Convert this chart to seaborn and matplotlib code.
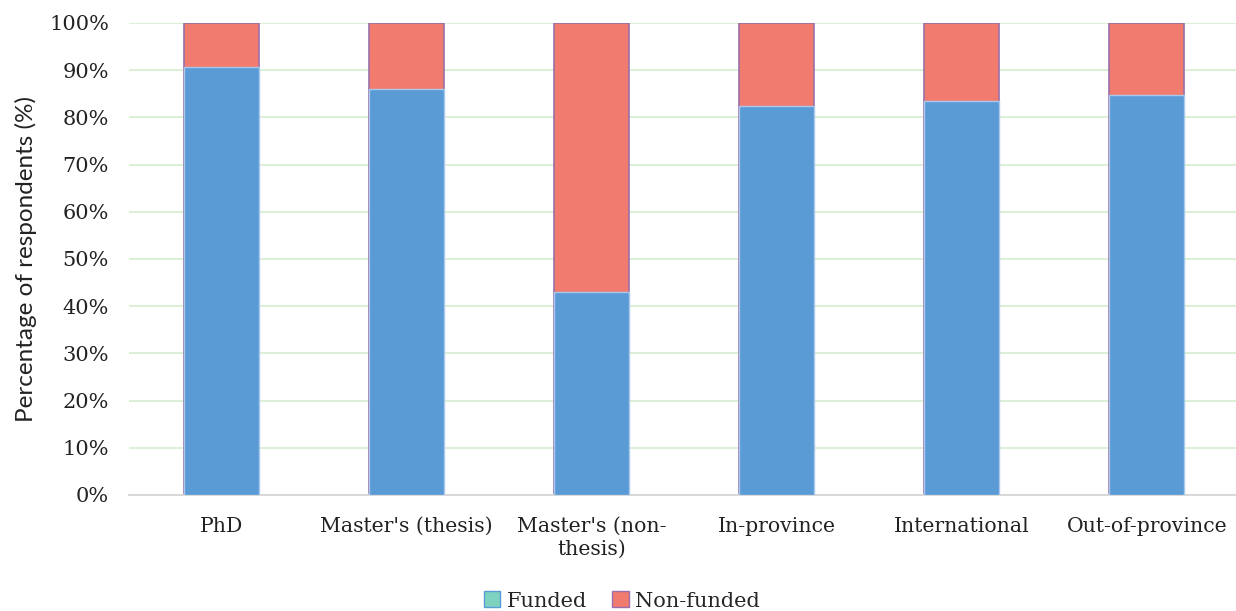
import matplotlib
matplotlib.use("Agg")
import matplotlib.pyplot as plt
import matplotlib.patches as mpatches
import seaborn as sns
import pandas as pd

categories = ["PhD", "Master's (thesis)", "Master's (non-\nthesis)",
              "In-province", "International", "Out-of-province"]
funded = [90.7, 86.0, 43.0, 82.4, 83.5, 84.7]
non_funded = [100 - f for f in funded]
y_ticks = list(range(0, 101, 10))

sns.set_theme(style="white")
serif = ["DejaVu Serif"]
sans = ["Lato", "DejaVu Sans"]

df = pd.DataFrame({"category": categories, "Funded": funded,
                   "Non-funded": non_funded})
df["total"] = df["Funded"] + df["Non-funded"]

fig = plt.figure(figsize=(12.36, 6.11), dpi=100)
ax = fig.add_axes([128.5 / 1236, 116 / 611, (1239.5 - 128.5) / 1236, 472 / 611])

blue = "#5b9bd5"
red = "#f07b6e"
bw = 0.405

# stacked bars: full-height non-funded layer first, funded layer on top
sns.barplot(data=df, x="category", y="total", color=red, width=bw,
            edgecolor="#9b6fa8", linewidth=1.2, saturation=1, ax=ax, zorder=2)
sns.barplot(data=df, x="category", y="Funded", color=blue, width=bw,
            edgecolor="#a8c8ec", linewidth=1.0, saturation=1, ax=ax, zorder=3)

ax.set_xlim(-0.5, len(categories) - 0.5)
ax.set_ylim(0, 100)
ax.set_yticks(y_ticks)
ax.set_yticklabels([f"{t}%" for t in y_ticks], fontfamily=serif, fontsize=15,
                   color="#222222")
ax.set_xticks(range(len(categories)))
ax.set_xticklabels(categories, fontfamily=serif, fontsize=14.7, color="#222222",
                   linespacing=1.25, va="top")
ax.tick_params(axis="both", length=0)
ax.tick_params(axis="x", pad=16)
ax.tick_params(axis="y", pad=14)
ax.set_xlabel("")
ax.set_ylabel("Percentage of respondents (%)", fontfamily=sans, fontsize=17.5,
              color="#222222", labelpad=9)

ax.yaxis.grid(True, color="#d6ecd0", linewidth=1.2, zorder=0)
ax.set_axisbelow(True)
for side in ["top", "right", "left"]:
    ax.spines[side].set_visible(False)
ax.spines["bottom"].set_color("#d9d9d9")
ax.spines["bottom"].set_linewidth(1.5)

handles = [
    mpatches.Patch(facecolor="#7dd3c0", edgecolor="#5b9bd5", label="Funded"),
    mpatches.Patch(facecolor=red, edgecolor="#9b6fa8", label="Non-funded"),
]
fig.legend(handles=handles, loc="lower center", bbox_to_anchor=(0.503, -0.03),
           ncol=2, frameon=False, prop={"family": serif, "size": 15},
           handlelength=0.8, handleheight=0.8, handletextpad=0.3,
           columnspacing=1.2)

fig.savefig("out.png", dpi=100, facecolor="white")
